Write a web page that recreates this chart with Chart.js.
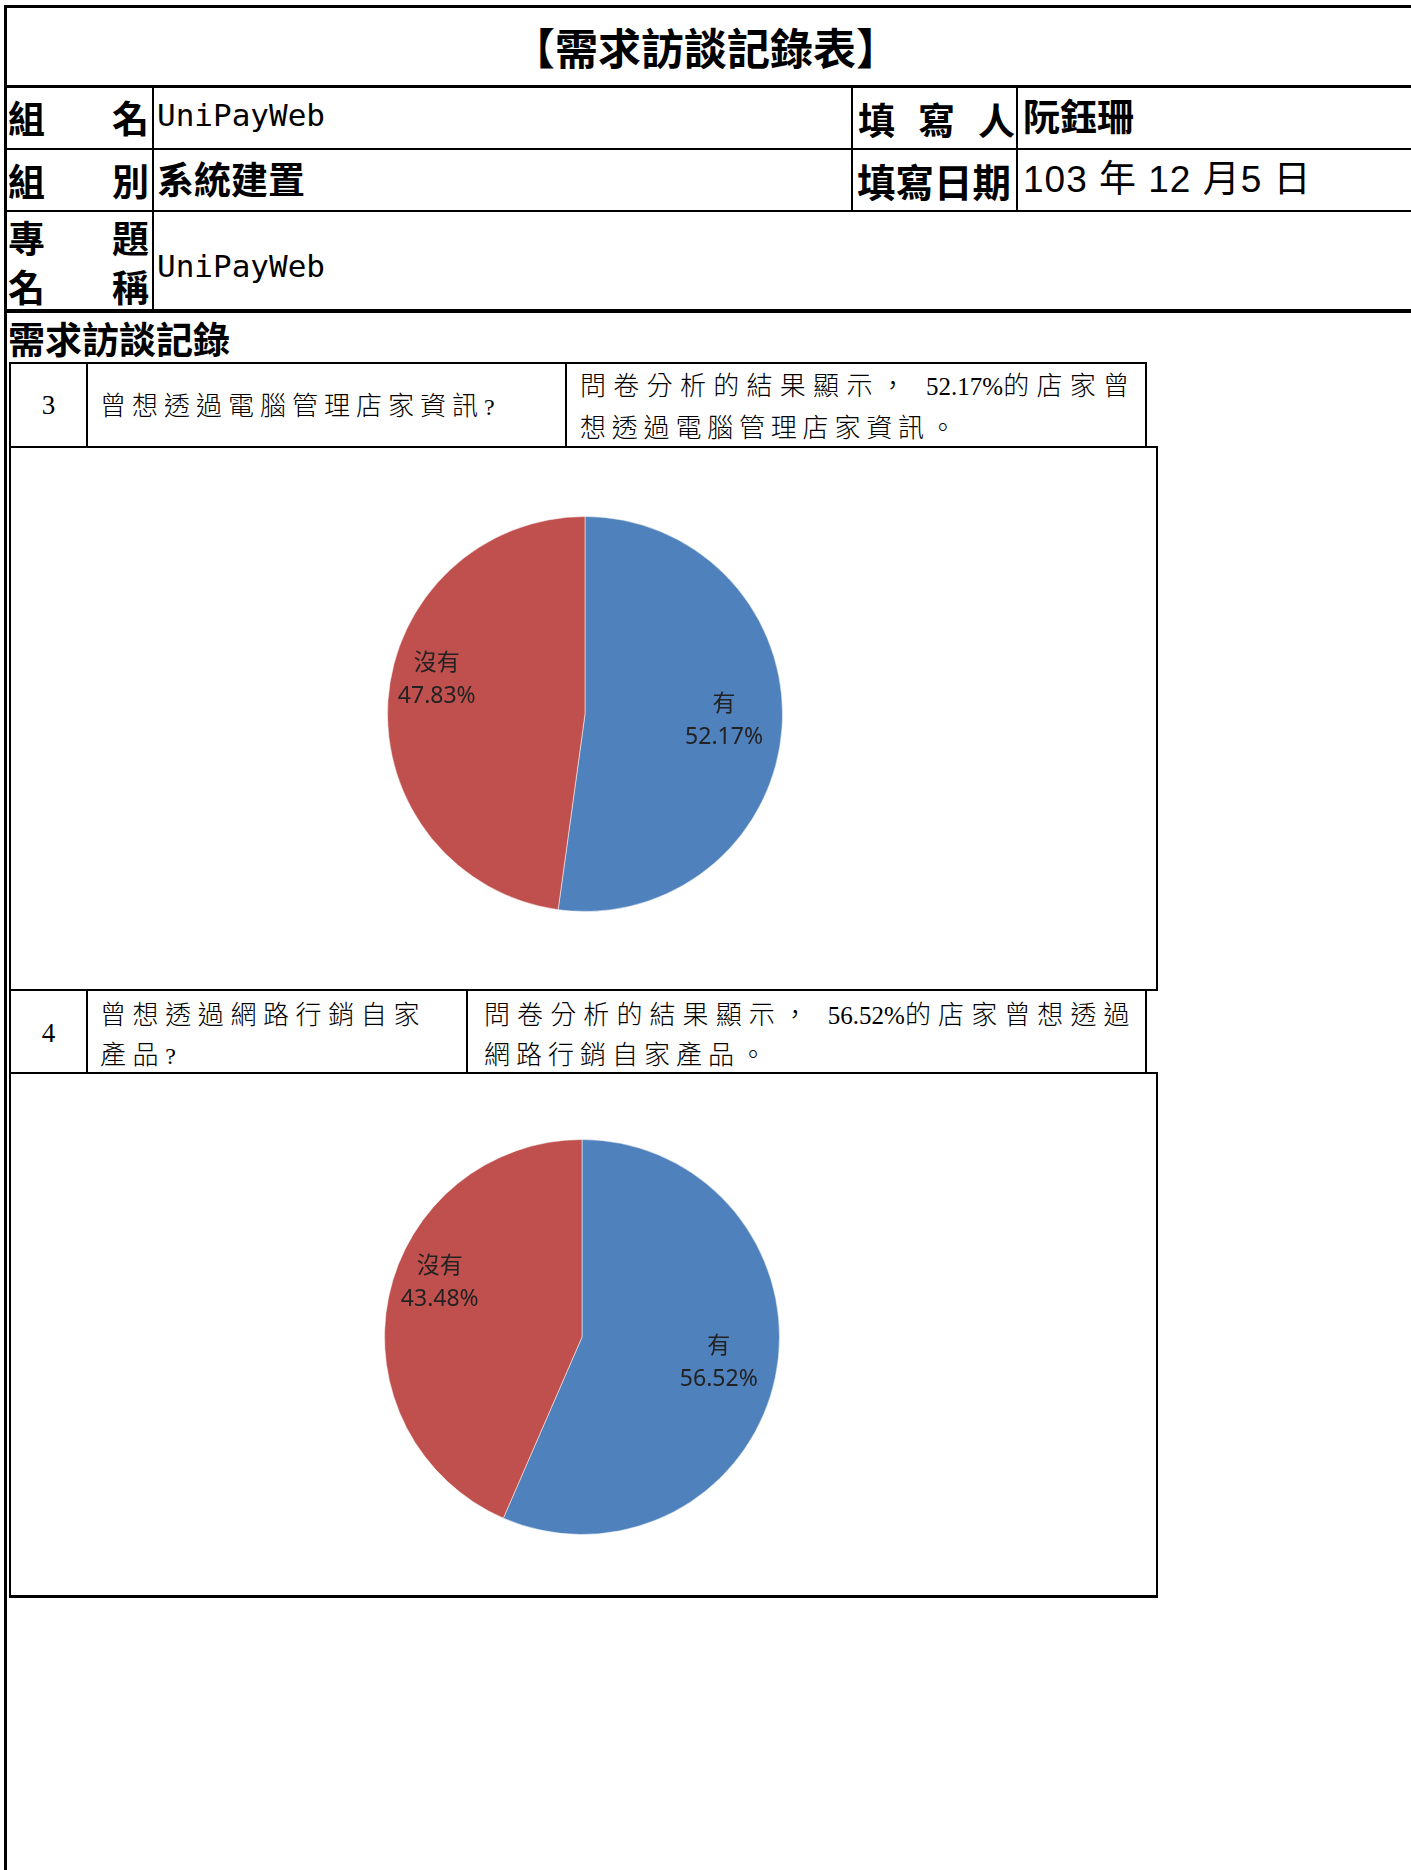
<!DOCTYPE html>
<html>
<head>
<meta charset="utf-8">
<script src="https://cdn.jsdelivr.net/npm/chart.js@4.4.0/dist/chart.umd.min.js"></script>
<style>
  body { margin: 0; background: #fff; width: 1411px; height: 1870px; overflow: hidden; position: relative; }
  .ln { position: absolute; background: #000; }
  .t { position: absolute; white-space: nowrap; color: #000; }
  .hd { font-family: 'Noto Sans CJK TC', sans-serif; font-weight: 700; font-size: 37px; }
  .mono { font-family: 'DejaVu Sans Mono', monospace; font-size: 31px; }
  .num { font-family: 'Liberation Sans', 'Noto Sans CJK TC', sans-serif; font-size: 37px; letter-spacing: 1px; }
  .serif { font-family: 'Liberation Serif', 'Tinos', 'Times New Roman', 'DejaVu Serif', serif; font-size: 24px; }
  .cjk { font-family: 'Noto Sans CJK TC', sans-serif; font-weight: 300; font-size: 26px; }
  .lat { letter-spacing: 0; }
  canvas { position: absolute; }
</style>
</head>
<body>
<canvas id="pie3" width="400" height="400" style="left:385px;top:514px"></canvas>
<canvas id="pie4" width="400" height="400" style="left:382px;top:1137px"></canvas>
<script>
// survey answers (percent of stores)
const categories = ['有', '沒有'];
const q3Values = [52.17, 47.83];
const q4Values = [56.52, 43.48];
const sliceColors = ['#4F81BD', '#C0504D'];

// form frame: [x, y, w, h]
const lines = [
  [4, 5, 1407, 3], [4, 5, 3, 1865], [4, 85, 1407, 3], [4, 148, 1407, 2],
  [4, 210, 1407, 2], [4, 309, 1407, 4], [152, 86, 2, 225], [851, 86, 2, 126],
  [1016, 86, 2, 126],
  // question 3
  [9, 362, 1138, 2], [9, 446, 1149, 2], [9, 362, 2, 1235], [1145, 362, 2, 86],
  [86, 362, 2, 86], [565, 362, 2, 86],
  [1156, 446, 2, 545], [9, 989, 1149, 2],
  // question 4
  [1145, 989, 2, 85], [86, 989, 2, 85], [466, 989, 2, 85], [9, 1072, 1149, 2],
  [1156, 1072, 2, 525], [9, 1595, 1149, 3]
];
lines.forEach(([x, y, w, h]) => {
  const d = document.createElement('div');
  d.className = 'ln';
  d.style.cssText = `left:${x}px;top:${y}px;width:${w}px;height:${h}px`;
  document.body.appendChild(d);
});

function T(x, cy, text, cls, extra, lh) {
  lh = lh || 38;
  const d = document.createElement('div');
  d.className = 't ' + cls;
  // CJK runs in light sans, latin runs in serif without extra tracking
  if (cls === 'serif') {
    text.split(/([0-9.%?]+)/).forEach((part, i) => {
      if (!part) return;
      const s = document.createElement('span');
      s.className = i % 2 ? 'lat' : 'cjk';
      s.textContent = part;
      d.appendChild(s);
    });
  } else {
    d.textContent = text;
  }
  d.style.left = x + 'px';
  d.style.lineHeight = lh + 'px';
  d.style.top = (cy - lh / 2) + 'px';
  if (extra) d.style.cssText += extra;
  document.body.appendChild(d);
}

T(0, 46, '【需求訪談記錄表】', 'hd', 'width:1411px;text-align:center;font-size:43px;font-weight:600', 44);
T(8, 117, '組', 'hd'); T(112, 117, '名', 'hd');
T(157, 115, 'UniPayWeb', 'mono');
T(858, 119, '填', 'hd'); T(918, 119, '寫', 'hd'); T(978, 119, '人', 'hd');
T(1023, 115, '阮鈺珊', 'hd');
T(8, 180, '組', 'hd'); T(112, 180, '別', 'hd');
T(157, 178, '系統建置', 'hd');
T(857, 180, '填寫日期', 'hd', 'font-size:38.5px');
T(1023, 180, '103 年 12 月5 日', 'num');
T(8, 237, '專', 'hd', '', 36); T(112, 237, '題', 'hd', '', 36);
T(8, 286, '名', 'hd', '', 36); T(112, 286, '稱', 'hd', '', 36);
T(157, 266, 'UniPayWeb', 'mono');
T(8, 338, '需求訪談記錄', 'hd');

T(11, 405, '3', 'serif', 'width:75px;text-align:center;font-size:27px');
T(100, 404, '曾想透過電腦管理店家資訊?', 'serif', 'letter-spacing:6px');
T(580, 384, '問卷分析的結果顯示， 52.17%的店家曾', 'serif', 'letter-spacing:7.3px;font-size:25px');
T(580, 426, '想透過電腦管理店家資訊。', 'serif', 'letter-spacing:5.8px;font-size:25px');

T(11, 1033, '4', 'serif', 'width:75px;text-align:center;font-size:27px');
T(100, 1013, '曾想透過網路行銷自家', 'serif', 'letter-spacing:6.6px');
T(100, 1053, '產品?', 'serif', 'letter-spacing:6.6px');
T(484, 1013, '問卷分析的結果顯示， 56.52%的店家曾想透過', 'serif', 'letter-spacing:7.1px;font-size:25px');
T(484, 1053, '網路行銷自家產品。', 'serif', 'letter-spacing:6px;font-size:25px');

// category + percent label inside each slice
const sliceLabels = {
  id: 'sliceLabels',
  afterDatasetsDraw(chart, args, opts) {
    const ctx = chart.ctx;
    const ds = chart.data.datasets[0];
    ctx.save();
    ctx.font = opts.font;
    ctx.fillStyle = opts.color;
    ctx.textAlign = 'center';
    ctx.textBaseline = 'middle';
    chart.getDatasetMeta(0).data.forEach((arc, i) => {
      const p = arc.getProps(['x', 'y', 'startAngle', 'endAngle', 'outerRadius'], true);
      const a = (p.startAngle + p.endAngle) / 2 + opts.shift[i] * Math.PI / 180;
      const r = p.outerRadius * opts.dist[i];
      const cx = p.x + r * Math.cos(a);
      const cy = p.y + r * Math.sin(a);
      ctx.fillText(chart.data.labels[i], cx, cy - opts.gap / 2);
      ctx.fillText(ds.data[i].toFixed(2) + '%', cx, cy + opts.gap / 2);
    });
    ctx.restore();
  }
};

function makePie(id, values) {
  new Chart(document.getElementById(id), {
    type: 'pie',
    data: {
      labels: categories,
      datasets: [{
        data: values,
        backgroundColor: sliceColors,
        borderColor: 'rgba(255,255,255,0.5)',
        borderWidth: 1
      }]
    },
    options: {
      responsive: false,
      animation: false,
      devicePixelRatio: 1,
      layout: { padding: 2 },
      plugins: {
        legend: { display: false },
        tooltip: { enabled: false },
        sliceLabels: {
          font: "23px 'Noto Sans', 'Noto Sans CJK TC', sans-serif",
          color: '#222',
          gap: 33,
          shift: [-1, 9],
          dist: [0.705, 0.77]
        }
      }
    },
    plugins: [sliceLabels]
  });
}

makePie('pie3', q3Values);
makePie('pie4', q4Values);
</script>
</body>
</html>
